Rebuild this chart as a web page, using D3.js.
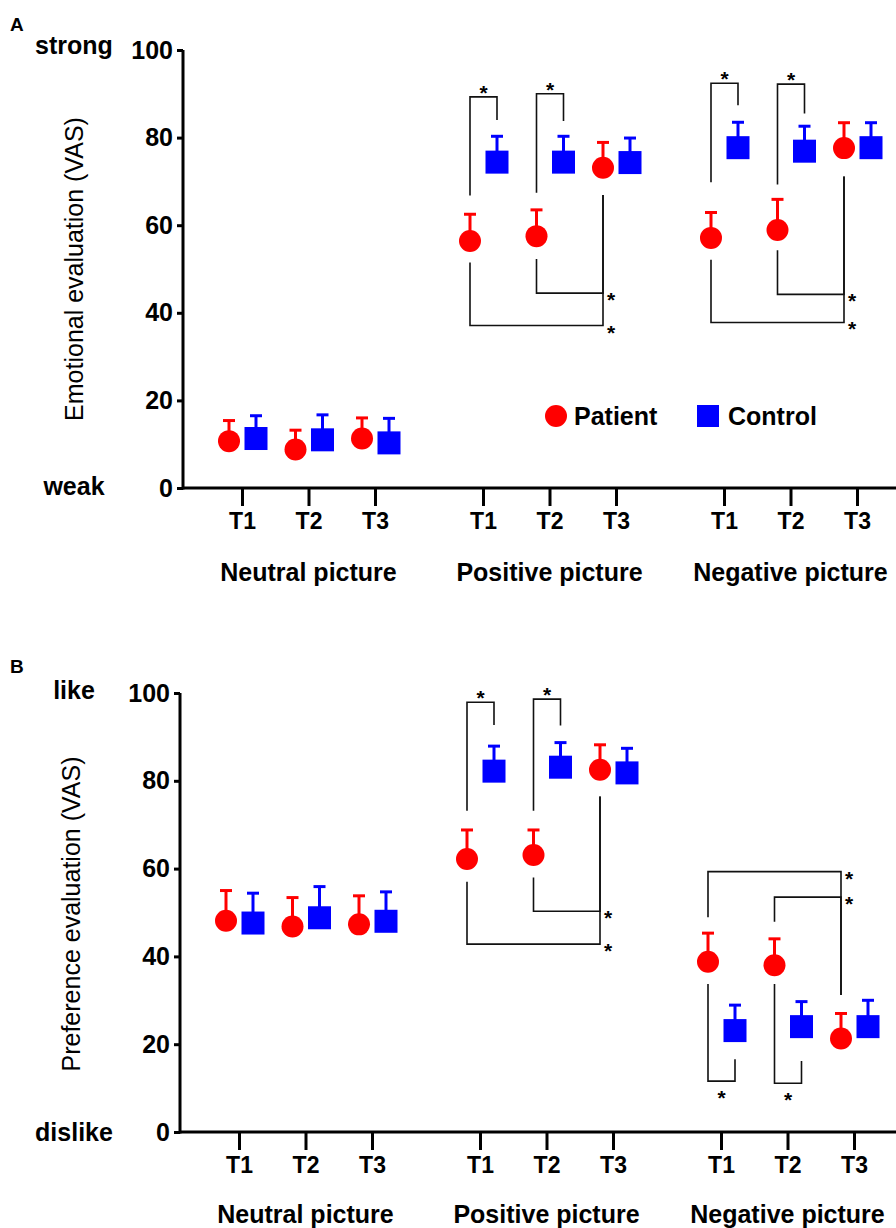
<!DOCTYPE html>
<html>
<head>
<meta charset="utf-8">
<script src="https://cdn.jsdelivr.net/npm/d3@7"></script>
<style>
  body { margin: 0; background: #fff; }
  text { font-family: "Liberation Sans", Arial, sans-serif; fill: #000; }
</style>
</head>
<body>
<svg id="chart"></svg>
<script>
/**
 * CONSTANTS AND GLOBALS
 * */
const width = 896,
  height = 1228,
  red = "#ff0000",
  blue = "#0000ff";

/**
 * DATA
 * */
const groups = ["Neutral picture", "Positive picture", "Negative picture"];
const times = ["T1", "T2", "T3"];
const yTicks = [0, 20, 40, 60, 80, 100];

// A: emotional evaluation, [group][time]
const emoPatientMean = [[10.7, 8.8, 11.3], [56.4, 57.5, 73.1], [57.1, 58.9, 77.6]];
const emoPatientErr = [[4.7, 4.4, 4.7], [6.1, 6.0, 5.8], [5.8, 7.0, 5.8]];
const emoControlMean = [[11.3, 11.0, 10.3], [74.4, 74.4, 74.3], [77.7, 76.9, 77.7]];
const emoControlErr = [[5.2, 5.7, 5.6], [5.9, 5.9, 5.6], [5.8, 5.7, 5.7]];

// B: preference evaluation, [group][time]
const prefPatientMean = [[48.1, 46.8, 47.3], [62.2, 63.1, 82.5], [38.8, 38.0, 21.3]];
const prefPatientErr = [[6.9, 6.6, 6.5], [6.6, 5.7, 5.7], [6.5, 6.0, 5.7]];
const prefControlMean = [[47.6, 48.8, 48.0], [82.2, 83.1, 81.8], [23.1, 24.0, 24.0]];
const prefControlErr = [[6.8, 7.1, 6.7], [5.7, 5.6, 5.6], [5.8, 5.7, 6.0]];

// significance brackets: [group, fromTime, fromSeries, toTime, toSeries, legStart, level, legEnd, star]
const emoBrackets = [
  [1, 0, "P", 0, "C", 66.8, 89.3, 84.0, "above"],
  [1, 1, "P", 1, "C", 67.4, 90.0, 83.8, "above"],
  [1, 1, "P", 2, "P", 52.3, 44.5, 66.9, "right"],
  [1, 0, "P", 2, "P", 51.5, 37.1, 66.9, "right"],
  [2, 0, "P", 0, "C", 69.8, 92.4, 87.4, "above"],
  [2, 1, "P", 1, "C", 69.3, 92.2, 85.5, "above"],
  [2, 1, "P", 2, "P", 54.3, 44.2, 71.1, "right"],
  [2, 0, "P", 2, "P", 52.1, 37.8, 71.1, "right"]
];
const prefBrackets = [
  [1, 0, "P", 0, "C", 73.2, 97.9, 92.7, "above"],
  [1, 1, "P", 1, "C", 73.2, 98.6, 92.6, "above"],
  [1, 1, "P", 2, "P", 58.0, 50.3, 76.4, "right"],
  [1, 0, "P", 2, "P", 57.0, 42.8, 76.4, "right"],
  [2, 0, "P", 2, "P", 48.9, 59.3, 31.2, "right"],
  [2, 1, "P", 2, "P", 47.9, 53.5, 31.2, "right"],
  [2, 0, "P", 0, "C", 33.7, 11.6, 16.6, "below"],
  [2, 1, "P", 1, "C", 33.7, 11.1, 16.2, "below"]
];

const groupStep = 3.624; // gap between picture groups, in time-slot units
const slot = (g, t) => g * groupStep + t;

const svg = d3.select("#chart").attr("width", width).attr("height", height);

/**
 * DRAW ONE PANEL
 * */
function drawPanel(cfg) {
  const yScale = d3.scaleLinear().domain([0, 100]).range([cfg.y0, cfg.y100]);
  const xScale = d3.scaleLinear()
    .domain([0, slot(2, 2)])
    .range([cfg.xFirst, cfg.xLast]);

  const offset = { P: -13, C: 14 };
  const xPos = (g, t, s) => xScale(slot(g, t)) + offset[s];

  const g = svg.append("g");

  // panel letter + end words
  g.append("text").attr("x", 10).attr("y", cfg.letterY)
    .attr("font-size", 19).attr("font-weight", "bold").text(cfg.letter);
  g.append("text").attr("x", 74).attr("y", cfg.topWordY)
    .attr("text-anchor", "middle").attr("font-size", 25).attr("font-weight", "bold")
    .text(cfg.topWord);
  g.append("text").attr("x", 74).attr("y", cfg.bottomWordY)
    .attr("text-anchor", "middle").attr("font-size", 25).attr("font-weight", "bold")
    .text(cfg.bottomWord);

  // y axis title
  g.append("text")
    .attr("transform", `translate(${cfg.titleX},${cfg.titleY}) rotate(-90)`)
    .attr("text-anchor", "middle").attr("font-size", 25)
    .text(cfg.title);

  // AXES
  const yAxis = d3.axisLeft(yScale).tickValues(yTicks).tickSize(6).tickPadding(4);
  const yG = g.append("g")
    .attr("transform", `translate(${cfg.axisX},0)`)
    .call(yAxis);
  yG.select(".domain").remove();
  yG.selectAll(".tick line").attr("stroke", "#000").attr("stroke-width", 3);
  yG.selectAll(".tick text")
    .attr("font-size", 25).attr("font-weight", "bold")
    .attr("font-family", "Liberation Sans, Arial, sans-serif").attr("fill", "#000");

  const slots = [];
  groups.forEach((_, gi) => times.forEach((_, ti) => slots.push(slot(gi, ti))));
  const xAxis = d3.axisBottom(xScale)
    .tickValues(slots)
    .tickSize(18)
    .tickPadding(7)
    .tickFormat((d, i) => times[i % 3]);
  const xG = g.append("g")
    .attr("transform", `translate(0,${cfg.y0})`)
    .call(xAxis);
  xG.select(".domain").remove();
  xG.selectAll(".tick line").attr("stroke", "#000").attr("stroke-width", 3);
  xG.selectAll(".tick text")
    .attr("font-size", 23).attr("font-weight", "bold")
    .attr("font-family", "Liberation Sans, Arial, sans-serif").attr("fill", "#000");

  // axis lines
  g.append("line")
    .attr("x1", cfg.axisX).attr("x2", cfg.axisX)
    .attr("y1", yScale(100)).attr("y2", yScale(0) + 1.5)
    .attr("stroke", "#000").attr("stroke-width", 3);
  g.append("line")
    .attr("x1", cfg.axisX).attr("x2", width)
    .attr("y1", yScale(0)).attr("y2", yScale(0))
    .attr("stroke", "#000").attr("stroke-width", 3);

  // group labels
  g.selectAll(".group-label")
    .data(groups)
    .join("text")
    .attr("class", "group-label")
    .attr("x", (d, i) => xScale(slot(i, 1)))
    .attr("y", cfg.groupLabelY)
    .attr("text-anchor", "middle")
    .attr("font-size", 25).attr("font-weight", "bold")
    .text(d => d);

  // build point table
  const points = [];
  groups.forEach((_, gi) => times.forEach((_, ti) => {
    points.push({ g: gi, t: ti, s: "P", mean: cfg.pMean[gi][ti], err: cfg.pErr[gi][ti] });
    points.push({ g: gi, t: ti, s: "C", mean: cfg.cMean[gi][ti], err: cfg.cErr[gi][ti] });
  }));
  const color = s => (s === "P" ? red : blue);

  // brackets
  const line = d3.line();
  g.selectAll(".bracket")
    .data(cfg.brackets)
    .join("path")
    .attr("class", "bracket")
    .attr("fill", "none").attr("stroke", "#111").attr("stroke-width", 1.6)
    .attr("d", d => {
      const x1 = xPos(d[0], d[1], d[2]), x2 = xPos(d[0], d[3], d[4]);
      return line([[x1, yScale(d[5])], [x1, yScale(d[6])], [x2, yScale(d[6])], [x2, yScale(d[7])]]);
    });
  g.selectAll(".star")
    .data(cfg.brackets)
    .join("text")
    .attr("class", "star")
    .attr("font-size", 21)
    .attr("font-weight", "bold")
    .attr("text-anchor", d => (d[8] === "right" ? "start" : "middle"))
    .attr("x", d => {
      const x1 = xPos(d[0], d[1], d[2]), x2 = xPos(d[0], d[3], d[4]);
      return d[8] === "right" ? x2 + 4 : (x1 + x2) / 2;
    })
    .attr("y", d => {
      const ly = yScale(d[6]);
      if (d[8] === "above") return ly + 3;
      if (d[8] === "below") return ly + 24;
      return ly + 14;
    })
    .text("*");

  // error bars (upper only)
  g.selectAll(".err-stem")
    .data(points)
    .join("line")
    .attr("class", "err-stem")
    .attr("x1", d => xPos(d.g, d.t, d.s)).attr("x2", d => xPos(d.g, d.t, d.s))
    .attr("y1", d => yScale(d.mean)).attr("y2", d => yScale(d.mean + d.err))
    .attr("stroke", d => color(d.s)).attr("stroke-width", 3);
  g.selectAll(".err-cap")
    .data(points)
    .join("line")
    .attr("class", "err-cap")
    .attr("x1", d => xPos(d.g, d.t, d.s) - 6).attr("x2", d => xPos(d.g, d.t, d.s) + 6)
    .attr("y1", d => yScale(d.mean + d.err)).attr("y2", d => yScale(d.mean + d.err))
    .attr("stroke", d => color(d.s)).attr("stroke-width", 3);

  // markers
  g.selectAll(".dot")
    .data(points.filter(d => d.s === "P"))
    .join("circle")
    .attr("class", "dot")
    .attr("cx", d => xPos(d.g, d.t, d.s))
    .attr("cy", d => yScale(d.mean))
    .attr("r", 11)
    .attr("fill", red);
  g.selectAll(".sq")
    .data(points.filter(d => d.s === "C"))
    .join("rect")
    .attr("class", "sq")
    .attr("x", d => xPos(d.g, d.t, d.s) - 11.5)
    .attr("y", d => yScale(d.mean) - 11.5)
    .attr("width", 23).attr("height", 23)
    .attr("fill", blue);

  return { xScale, yScale };
}

drawPanel({
  letter: "A", letterY: 31,
  topWord: "strong", topWordY: 54, bottomWord: "weak", bottomWordY: 495,
  title: "Emotional evaluation (VAS)", titleX: 83, titleY: 269,
  y0: 488, y100: 50, axisX: 183, xFirst: 242, xLast: 857,
  groupLabelY: 581,
  pMean: emoPatientMean, pErr: emoPatientErr,
  cMean: emoControlMean, cErr: emoControlErr,
  brackets: emoBrackets
});

drawPanel({
  letter: "B", letterY: 673,
  topWord: "like", topWordY: 699, bottomWord: "dislike", bottomWordY: 1141,
  title: "Preference evaluation (VAS)", titleX: 80, titleY: 914,
  y0: 1132, y100: 693, axisX: 180, xFirst: 239, xLast: 854,
  groupLabelY: 1223,
  pMean: prefPatientMean, pErr: prefPatientErr,
  cMean: prefControlMean, cErr: prefControlErr,
  brackets: prefBrackets
});

// legend (panel A)
const legend = svg.append("g");
legend.append("circle").attr("cx", 556).attr("cy", 416).attr("r", 11).attr("fill", red);
legend.append("text").attr("x", 574).attr("y", 425)
  .attr("font-size", 25).attr("font-weight", "bold").text("Patient");
legend.append("rect").attr("x", 697).attr("y", 405).attr("width", 22).attr("height", 22).attr("fill", blue);
legend.append("text").attr("x", 728).attr("y", 425)
  .attr("font-size", 25).attr("font-weight", "bold").text("Control");
</script>
</body>
</html>
